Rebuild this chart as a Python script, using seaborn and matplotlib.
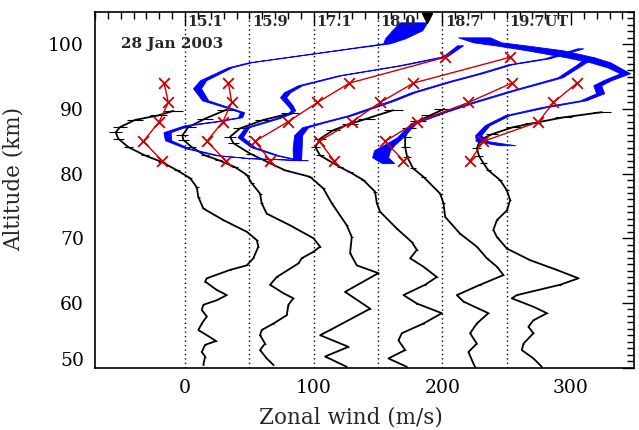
import numpy as np
import pandas as pd
import matplotlib
matplotlib.use("Agg")
import matplotlib.pyplot as plt
import seaborn as sns
from matplotlib.ticker import MultipleLocator
from matplotlib.transforms import ScaledTranslation

# ---------------- data ----------------
times = ["15.1", "15.9", "17.1", "18.0", "18.7", "19.7UT"]
offsets = [0, 50, 100, 150, 200, 250]

# black profiles (altitude km, zonal wind m/s before offset)
bk1_alt = [89.7, 89.0, 88.3, 87.2, 86.4, 85.4, 84.1, 82.8, 81.8, 80.5, 79.3, 77.9, 76.4, 74.6, 72.8, 71.0, 69.7, 68.7,
           66.9, 65.8, 65.1, 63.8, 63.3, 62.0, 61.2, 60.4, 59.7, 58.9, 57.9, 56.8, 55.8, 55.0, 54.1, 53.5, 52.4, 51.7, 50.4]
bk1_u = [-9.1, -20.8, -38.9, -50.5, -53.9, -51.9, -44.1, -31.1, -18.1, -6.2, 3.9, 9.1, 10.3, 14.2, 29.8, 48.0, 55.8, 57.0,
         53.1, 48.0, 35.0, 16.9, 15.6, 24.6, 32.4, 24.6, 14.2, 13.0, 16.9, 13.0, 10.3, 16.9, 24.1, 15.6, 13.0, 15.6, 14.2]

bk2_alt = [89.9, 88.5, 87.2, 85.9, 85.2, 84.1, 82.8, 82.1, 81.0, 79.8, 78.5, 76.9, 75.4, 73.8, 72.0, 70.0, 68.7, 67.9,
           66.9, 66.1, 64.0, 62.8, 61.5, 60.7, 59.7, 58.1, 56.8, 55.8, 55.0, 53.7, 52.7, 51.4, 50.4]
bk2_u = [-17.6, -34.4, -47.4, -52.1, -51.3, -44.8, -34.4, -24.1, -11.1, -2.0, 1.9, 8.3, 9.6, 13.5, 31.6, 49.8, 55.0, 49.8,
         40.7, 38.1, 21.3, 16.1, 26.4, 34.2, 30.3, 29.1, 18.7, 9.6, 8.3, 12.2, 8.3, 13.5, 18.7]

bk3_alt = [89.3, 88.3, 87.0, 85.7, 84.7, 83.1, 81.6, 80.5, 79.5, 77.7, 75.4, 72.0, 70.2, 67.7, 65.8, 64.6, 61.7, 59.1,
           55.8, 55.0, 53.2, 51.7, 50.1]
bk3_u = [-18.4, -39.1, -57.2, -65.0, -62.4, -49.5, -33.9, -22.2, -2.8, 7.5, 14.1, 25.7, 29.6, 28.3, 33.5, 50.3, 24.4, 43.9,
         12.8, 5.0, 27.0, 8.9, 25.7]

bk4_alt = [89.8, 88.5, 87.7, 86.7, 85.4, 84.1, 82.8, 81.0, 80.2, 79.0, 77.2, 75.4, 74.1, 71.5, 69.4, 68.2, 66.9, 65.6,
           64.0, 62.8, 61.2, 59.9, 58.4, 56.8, 55.3, 54.2, 52.7, 51.4, 50.1]
bk4_u = [11.7, -8.7, -21.7, -34.9, -45.0, -48.7, -45.0, -29.5, -21.7, -11.4, -2.3, -0.9, 1.6, 14.6, 26.3, 30.2, 25.0, 35.3,
         45.7, 36.6, 19.8, 30.2, 49.6, 35.3, 18.5, 15.9, 21.1, 8.1, 22.4]

bk5_alt = [90.0, 89.0, 88.1, 87.0, 85.7, 84.1, 82.6, 80.8, 79.5, 76.9, 75.4, 73.3, 70.7, 68.7, 66.9, 65.6, 64.3, 62.8,
           61.2, 60.2, 58.4, 56.8, 55.3, 53.7, 52.4, 50.6, 50.1]
bk5_u = [1.4, -9.5, -18.8, -25.8, -28.9, -28.9, -27.4, -22.7, -14.7, -1.7, 0.9, 2.2, 13.8, 26.8, 34.6, 42.4, 47.5, 29.4,
         11.3, 16.4, 35.8, 26.8, 21.6, 26.8, 20.3, 24.2, 25.5]

bk6_alt = [89.5, 88.7, 87.8, 87.2, 86.1, 85.2, 83.9, 82.7, 81.6, 80.5, 79.0, 77.4, 75.9, 74.3, 72.8, 71.3, 70.2, 68.4,
           66.6, 65.1, 63.8, 62.8, 61.2, 60.7, 59.4, 58.4, 57.3, 56.3, 55.3, 53.7, 52.7, 51.4, 50.1]
bk6_u = [74.0, 44.2, 20.6, 5.3, -11.3, -20.6, -23.2, -21.4, -18.0, -14.2, -5.1, 0.2, 2.7, 0.2, -7.6, -10.3, -7.6, 0.2,
         18.3, 39.0, 55.8, 41.6, 7.9, 4.0, 20.8, 31.3, 20.8, 16.9, 20.8, 13.1, 11.8, 20.8, 27.4]

# uncertainty of the black profiles vs altitude (half width, m/s)
err_ref_alt = [50, 70, 76, 80, 84, 87, 90]
err_ref_hw = [0.4, 0.7, 1.0, 1.8, 3.5, 5.5, 7.5]

# red crosses (altitude km, wind m/s before offset)
rd1_alt = [94, 91, 88, 85, 82]
rd1_u = [-16.3, -13.0, -20.2, -32.4, -18.1]
rd2_alt = [94, 91, 88, 85, 82]
rd2_u = [-16.3, -13.7, -20.7, -33.1, -18.4]
rd3_alt = [98, 94, 91, 88, 85, 82]
rd3_u = [102.2, 27.8, 2.9, -20.1, -45.6, -33.9]
rd4_alt = [98, 94, 91, 88, 85, 82]
rd4_u = [102.7, 27.5, 1.6, -20.4, -45.6, -34.2]
rd5_alt = [94, 91, 88, 85, 82]
rd5_u = [54.0, 20.3, -19.8, -44.5, -30.2]
rd6_alt = [94, 91, 88, 85, 82]
rd6_u = [54.6, 36.4, 24.7, -18.0, -28.4]

# blue bands (altitude km, wind m/s before offset, half width m/s)
bl2_alt = [82.07, 82.38, 82.84, 83.93, 85.16, 86.40, 87.48, 88.10, 88.72, 89.49, 90.26, 91.34, 93.20, 94.44, 96.45, 97.22,
           98.30, 99.38, 100.15, 100.93, 102.16, 103.40]
bl2_u = [44.1, 0.5, -25.1, -48.4, -63.2, -64.0, -48.4, -25.1, -7.2, -5.7, -17.3, -34.4, -40.7, -36.0, -15.0, 0.5,
         39.4, 78.3, 106.7, 113.3, 122.6, 127.7]
bl2_e = [1.2, 1.2, 1.2, 1.6, 2.4, 2.8, 2.0, 1.6, 1.6, 1.6, 1.6, 2.4, 3.1, 2.4, 1.6, 1.2, 1.2, 1.2, 2.7, 7.8, 11.7, 10.5]

bl3_alt = [82.07, 82.84, 84.08, 85.63, 87.17, 88.56, 89.34, 89.80, 90.57, 91.81, 92.58, 93.66, 95.21, 96.75, 98.15,
           99.85]
bl3_u = [-10.6, -28.5, -47.1, -57.2, -51.8, -28.5, -18.4, -16.0, -18.4, -23.8, -20.7, -10.6, 20.5, 67.2, 102.2, 113.8]
bl3_e = [1.2, 1.2, 1.6, 2.0, 1.6, 1.6, 1.6, 1.6, 2.0, 2.4, 2.4, 1.6, 1.2, 1.2, 1.6, 2.3]

bl4_alt = [82.07, 83.93, 85.94, 87.17, 87.94, 89.03, 91.34, 92.58, 94.28, 95.52, 96.91, 97.84, 98.76, 99.38]
bl4_u = [-62.9, -62.9, -62.1, -56.7, -42.7, -21.7, 11.7, 27.3, 56.1, 79.4, 102.7, 131.5, 147.0, 157.2]
bl4_e = [3.1, 3.5, 3.1, 2.3, 1.6, 1.6, 1.6, 1.6, 1.6, 1.6, 1.6, 1.9, 2.3, 2.3]

bl5_alt = [81.61, 82.53, 83.62, 84.54, 85.63, 87.79, 89.49, 91.04, 92.89, 94.90, 96.91, 97.99]
bl5_u = [-42.1, -48.4, -46.8, -40.6, -32.8, -22.7, 0.6, 24.0, 55.1, 91.6, 107.2, 114.9]
bl5_e = [4.7, 6.2, 6.2, 3.9, 2.3, 1.9, 1.6, 1.6, 1.6, 1.9, 2.3, 3.1]

bl6_alt = [84.39, 85.01, 85.94, 87.48, 89.03, 90.26, 91.34, 92.43, 93.66, 94.44, 95.52, 96.45, 97.22, 97.99, 99.07,
           99.85, 100.31, 101.08]
bl6_u = [0.4, -19.1, -22.2, -15.2, 0.4, 28.4, 59.5, 72.7, 70.4, 78.1, 92.1, 82.8, 72.7, 57.2, 29.9, 2.7, -15.2, -25.3]
bl6_e = [6.2, 4.7, 2.3, 1.9, 1.9, 2.3, 2.3, 3.1, 3.1, 3.1, 3.9, 4.7, 7.8, 10.9, 14.0, 11.7, 10.9, 12.4]

black = [(bk1_alt, bk1_u), (bk2_alt, bk2_u), (bk3_alt, bk3_u), (bk4_alt, bk4_u), (bk5_alt, bk5_u), (bk6_alt, bk6_u)]
red = [(rd1_alt, rd1_u), (rd2_alt, rd2_u), (rd3_alt, rd3_u), (rd4_alt, rd4_u), (rd5_alt, rd5_u), (rd6_alt, rd6_u)]
blue = {1: (bl2_alt, bl2_u, bl2_e), 2: (bl3_alt, bl3_u, bl3_e), 3: (bl4_alt, bl4_u, bl4_e),
        4: (bl5_alt, bl5_u, bl5_e), 5: (bl6_alt, bl6_u, bl6_e)}

# ---------------- figure ----------------
sns.set_theme(style="white")
plt.rcParams["font.family"] = ["DejaVu Serif"]
fig = plt.figure(figsize=(6.39, 4.30), dpi=100)
ax = fig.add_axes([95 / 639, 1 - 367.5 / 430, 539 / 639, 355.5 / 430])
ax.set_xlim(-70, 349)
ax.set_ylim(50, 105)

# dotted reference lines
for off in offsets:
    ax.axvline(off, color="black", lw=1.0, ls=(0, (1, 2.2)), zorder=1)

# blue bands
for i, (a, u, e) in blue.items():
    a = np.asarray(a); u = np.asarray(u) + offsets[i]; e = np.asarray(e)
    ax.fill_betweenx(a, u - e, u + e, color="#0000ff", lw=0.6, edgecolor="#0000ff", zorder=3)

# black profiles
for i, (a, u) in enumerate(black):
    df = pd.DataFrame({"alt": a, "u": np.asarray(u) + offsets[i]})
    hw = np.interp(df["alt"], err_ref_alt, err_ref_hw)
    ax.errorbar(df["u"], df["alt"], xerr=hw, fmt="none", ecolor="black", elinewidth=0.8, capsize=0, zorder=2)
    sns.lineplot(data=df, x="u", y="alt", sort=False, estimator=None, color="black", lw=1.3, ax=ax, zorder=2)

# red crosses
for i, (a, u) in enumerate(red):
    df = pd.DataFrame({"alt": a, "u": np.asarray(u) + offsets[i]})
    sns.lineplot(data=df, x="u", y="alt", sort=False, estimator=None, color="#cc0000", lw=1.0, ax=ax, zorder=4)
    sns.scatterplot(data=df, x="u", y="alt", marker="x", s=60, color="#cc0000", linewidth=1.3, ax=ax, zorder=5)

# time labels
for off, t in zip(offsets, times):
    ax.text(off + 2, 103.5, t, fontsize=10.5, fontweight="bold", ha="left", va="center", zorder=6)
ax.text(-50, 100, "28 Jan 2003", fontsize=11, fontweight="bold", ha="left", va="center", zorder=6)
ax.plot([188], [104.1], marker="v", color="black", ms=7, zorder=6, clip_on=False)

# axes styling
ax.xaxis.set_major_locator(MultipleLocator(100))
ax.xaxis.set_minor_locator(MultipleLocator(10))
ax.yaxis.set_major_locator(MultipleLocator(10))
ax.yaxis.set_minor_locator(MultipleLocator(1))
ax.tick_params(which="both", direction="in", top=True, right=True, width=1.0, colors="black")
ax.tick_params(which="major", length=9, labelsize=13.5, pad=8)
ax.tick_params(which="minor", length=5)
for sp in ax.spines.values():
    sp.set_visible(True)
    sp.set_color("black")
    sp.set_linewidth(1.2)
ax.set_xlabel("Zonal wind (m/s)", fontsize=15.5)
ax.set_ylabel("Altitude (km)", fontsize=15.5)
ax.xaxis.set_label_coords(0.475, -0.11)
ax.yaxis.set_label_coords(-0.13, 0.53)

fig.canvas.draw()
# the lowest altitude label sits a little above its tick in the reference
for lab in ax.get_yticklabels():
    if lab.get_position()[1] == 50:
        lab.set_transform(lab.get_transform() + ScaledTranslation(0, 9 / 100, fig.dpi_scale_trans))

fig.savefig("out.png", dpi=100)
